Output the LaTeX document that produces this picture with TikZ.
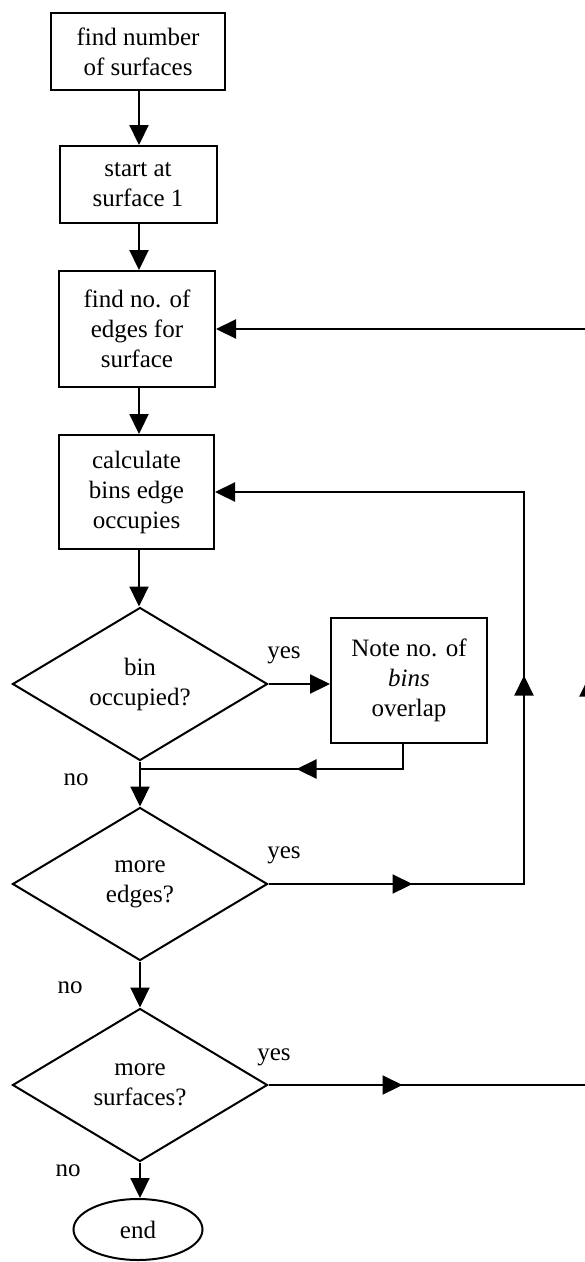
\documentclass[tikz,border=0pt]{standalone}
\usepackage{fontspec}
\setmainfont{Liberation Serif}
\usetikzlibrary{shapes.geometric,arrows.meta,decorations.markings}

\tikzset{
  tiptri/.tip={Triangle[length=20pt,width=19pt]},
  every node/.style={font=\fontsize{25}{30}\selectfont, align=center},
  stepbox/.style={draw, line width=2pt, rectangle, inner sep=0pt},
  decision/.style={draw, line width=2pt, diamond, aspect=1.67, inner sep=0pt,
    minimum width=255pt, minimum height=153pt},
  terminal/.style={draw, line width=2pt, ellipse, inner sep=0pt,
    minimum width=129pt, minimum height=61pt},
  conn/.style={line width=2.2pt},
  flow/.style={conn, -tiptri},
  midtip/.style={postaction={decorate, decoration={markings,
    mark=at position #1 with {\arrow{tiptri}}}}},
  lbl/.style={inner sep=0pt}
}

\begin{document}
\begin{tikzpicture}[x=1pt, y=-1pt]
  \useasboundingbox (0,0) rectangle (585,1262);
  \fill[white] (0,0) rectangle (585,1262);
  \clip (0,0) rectangle (585,1262);

  % main column of steps
  \node[stepbox, minimum width=174pt, minimum height=77pt] (b1) at (138,51.5)
    {find number\\of surfaces};
  \node[stepbox, minimum width=157pt, minimum height=77pt] (b2) at (138,184.5)
    {start at\\surface 1};
  \node[stepbox, minimum width=156pt, minimum height=116pt] (b3) at (137,329)
    {find no. of\\edges for\\surface};
  \node[stepbox, minimum width=155pt, minimum height=114pt] (b4) at (136.5,492)
    {calculate\\bins edge\\occupies};

  % decisions
  \node[decision] (d1) at (140,684) {bin\\occupied?};
  \node[decision] (d2) at (140,884) {more\\edges?};
  \node[decision] (d3) at (140,1085) {more\\surfaces?};

  % side step and end
  \node[stepbox, minimum width=156pt, minimum height=125pt] (nb) at (409,680)
    {Note no. of\\\textit{bins}\\overlap};
  \node[terminal] (end) at (138,1229.5) {end};

  % branch labels
  \node[lbl] (y1) at (284,655) {yes};
  \node[lbl] (y2) at (284,855) {yes};
  \node[lbl] (y3) at (274,1057) {yes};
  \node[lbl] (n1) at (76,780) {no};
  \node[lbl] (n2) at (70,988) {no};
  \node[lbl] (n3) at (68,1171) {no};

  % routing points
  \coordinate (cx) at (139,0);
  \coordinate (j) at (140,769);
  \coordinate (rx) at (524,0);
  \coordinate (ox) at (589,0);

  % straight flow down the main column
  \draw[flow] (cx |- b1.south) -- (cx |- b2.north);
  \draw[flow] (cx |- b2.south) -- (cx |- b3.north);
  \draw[flow] (cx |- b3.south) -- (cx |- b4.north);
  \draw[flow] (cx |- b4.south) -- (cx |- d1.north);
  \draw[flow] (d1.east) -- (d1.east -| nb.west);
  \draw[flow] (d1.south) -- (d2.north);
  \draw[flow] (d2.south) -- (d3.north);
  \draw[flow] (d3.south) -- (d3.south |- end.north);

  % return from the side step
  \draw[conn, midtip=132pt] ([xshift=-6pt]nb.south) |- (j);

  % inner loop: more edges
  \draw[flow, midtip=144pt, midtip=464pt]
    (d2.east) -| (rx |- b4.east) -- (b4.east);

  % outer loop: more surfaces
  \draw[flow, midtip=134pt, midtip=729pt]
    (d3.east) -| (ox |- b3.east) -- (b3.east);
\end{tikzpicture}
\end{document}
